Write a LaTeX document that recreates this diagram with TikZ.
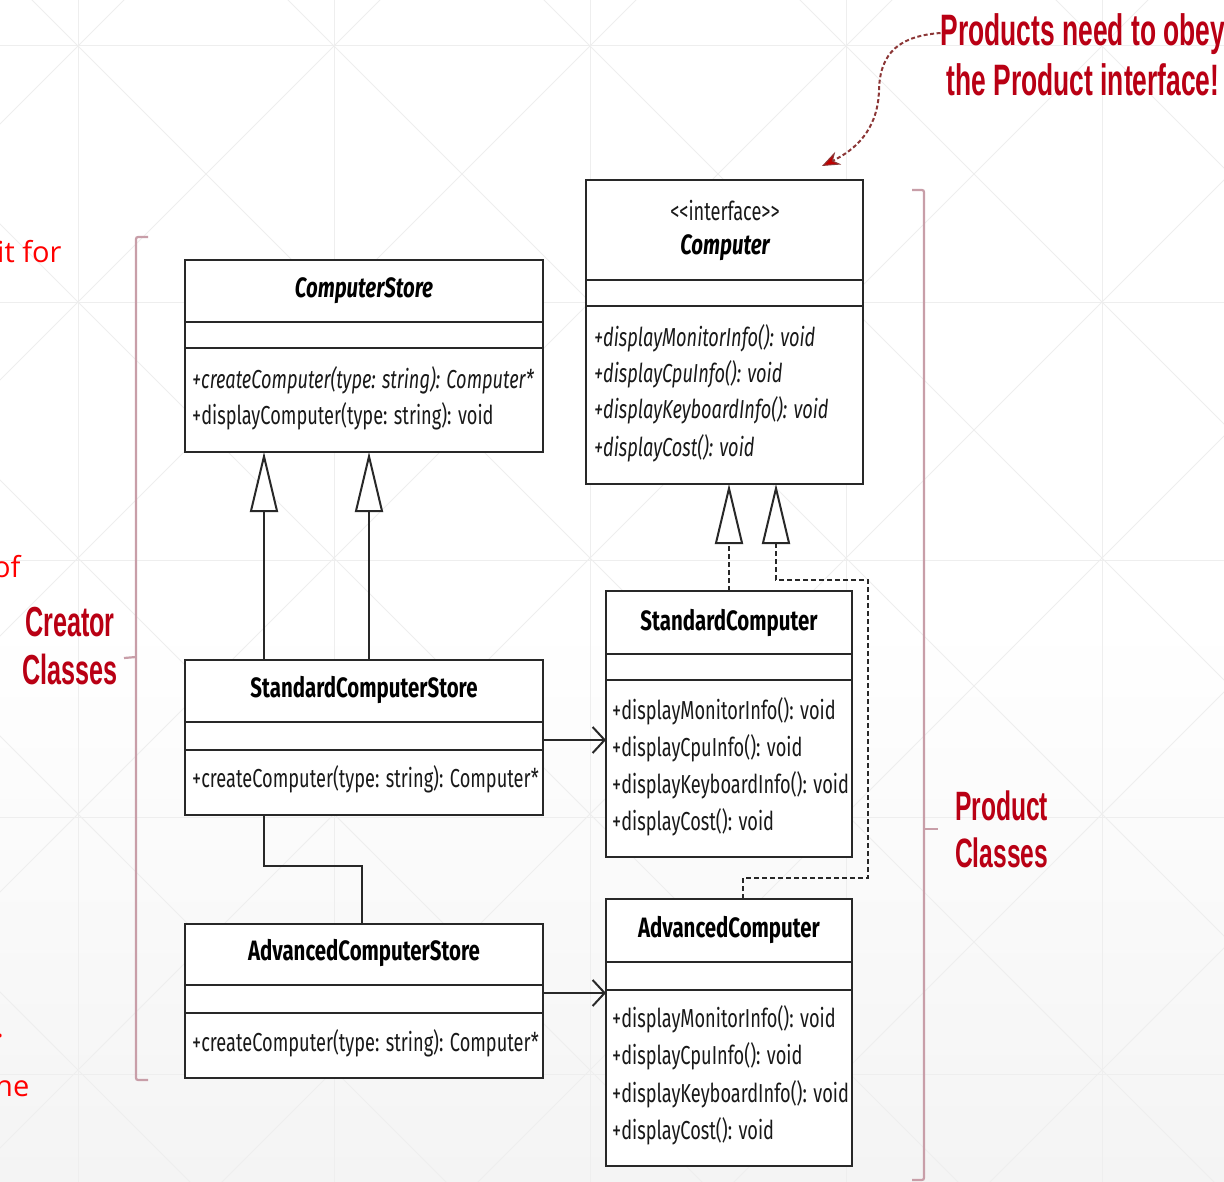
\documentclass[tikz,border=0pt]{standalone}
\usepackage{fontspec}
\usetikzlibrary{arrows.meta}
\newfontfamily\umlfont[FakeStretch=0.70]{Fira Sans}
\newfontfamily\umltitlefont[FakeStretch=0.73]{Fira Sans}
\newfontfamily\notefont[FakeStretch=0.6]{Liberation Sans}
\newfontfamily\sidefont{Open Sans}
\definecolor{notered}{RGB}{185,0,20}
\definecolor{bracketcol}{RGB}{200,158,168}
\definecolor{gridcol}{RGB}{238,238,238}
\definecolor{umlline}{RGB}{40,40,40}
\definecolor{bggrey}{RGB}{244,244,244}
\definecolor{curvecol}{RGB}{140,55,55}

\begin{document}
\begin{tikzpicture}[x=1pt,y=-1pt,
  classbox/.style={draw=umlline, line width=2.4, fill=white, rectangle, inner sep=0, outer sep=0, anchor=north west},
  sepline/.style={draw=umlline, line width=2.4},
  classtitle/.style={font={\umltitlefont\bfseries\fontsize{28}{30}\selectfont}, inner sep=0, text=black},
  stereo/.style={font={\umlfont\fontsize{26}{30}\selectfont}, inner sep=0, text=black!90},
  meth/.style={font={\umlfont\fontsize{26}{30}\selectfont}, inner sep=0, anchor=west, text=black!90},
  absmeth/.style={meth, font={\umlfont\itshape\fontsize{26}{30}\selectfont}},
  inherit/.style={draw=umlline, line width=2.2, -{Triangle[length=60pt, width=28pt, fill=white, line width=2pt]}},
  realize/.style={draw=umlline, line width=2, dash pattern=on 5pt off 3pt, -{Triangle[length=60pt, width=28pt, fill=white, line width=2pt]}},
  depend/.style={draw=umlline, line width=2.4, -{Straight Barb[length=12pt, width=26pt, line width=2pt]}},
  bracket/.style={draw=bracketcol, line width=2.2, rounded corners=2},
  note/.style={font={\notefont\bfseries\fontsize{44}{50}\selectfont}, text=notered, inner sep=0, align=center},
  side/.style={font={\sidefont\fontsize{29}{32}\selectfont}, text=red, inner sep=0, anchor=base west},
  gridline/.style={draw=gridcol, line width=1}
]
\useasboundingbox (0,0) rectangle (1224,1182);

% slide background with its faint lattice
\fill[white] (0,0) rectangle (1224,620);
\shade[top color=white, bottom color=bggrey] (0,620) rectangle (1224,1182);
\begin{scope}
  \clip (0,0) rectangle (1224,1182);
  \foreach \k in {0,...,4} {
    \draw[gridline] (78+256*\k,0) -- (78+256*\k,1182);
    \draw[gridline] (0,46+257*\k) -- (1224,46+257*\k);
  }
  \foreach \k in {-6,...,6}
    \draw[gridline] (32+256*\k-200,-200) -- (32+256*\k+1500,1500);
  \foreach \k in {-1,...,11}
    \draw[gridline] (124+256*\k+200,-200) -- (124+256*\k-1500,1500);
\end{scope}

% text running in from the neighbouring column
\node[side] (sidea) at (-3,263) {it for};
\node[side] (sideb) at (-7,577) {of};
\node[side] (sidec) at (-4,1037) {.};
\node[side] (sided) at (-5,1096) {ne};

% ---- creator classes ----
\node[classbox, minimum width=358, minimum height=192] (cs) at (185,260) {};
\draw[sepline] (185,322) -- (543,322) (185,348) -- (543,348);
\node[classtitle, font={\umltitlefont\bfseries\itshape\fontsize{28}{30}\selectfont}] (csname) at (364,291) {ComputerStore};
\node[absmeth] (csm1) at (192,380) {+createComputer(type: string): Computer*};
\node[meth] (csm2) at (192,416) {+displayComputer(type: string): void};

\node[classbox, minimum width=358, minimum height=154] (acs) at (185,924) {};
\draw[sepline] (185,985) -- (543,985) (185,1013) -- (543,1013);
\node[classtitle] (acsname) at (364,953) {AdvancedComputerStore};
\node[meth] (acsm1) at (192,1043) {+createComputer(type: string): Computer*};

% generalisation of AdvancedComputerStore, routed behind StandardComputerStore
\draw[inherit] ([xshift=177]acs.north west) -- ++(0,-58) -| ([xshift=79]cs.south west);

\node[classbox, minimum width=358, minimum height=155] (scs) at (185,660) {};
\draw[sepline] (185,722) -- (543,722) (185,750) -- (543,750);
\node[classtitle] (scsname) at (364,690) {StandardComputerStore};
\node[meth] (scsm1) at (192,779) {+createComputer(type: string): Computer*};

\draw[inherit] ([xshift=184]scs.north west) -- ([xshift=184]cs.south west);

% ---- product classes ----
\node[classbox, minimum width=277, minimum height=304] (comp) at (586,180) {};
\draw[sepline] (586,280) -- (863,280) (586,306) -- (863,306);
\node[stereo] (compst) at (725,211) {<{}<interface>{}>};
\node[classtitle, font={\umltitlefont\bfseries\itshape\fontsize{28}{30}\selectfont}] (compname) at (725,248) {Computer};
\node[absmeth] (compm1) at (594,338) {+displayMonitorInfo(): void};
\node[absmeth] (compm2) at (594,374) {+displayCpuInfo(): void};
\node[absmeth] (compm3) at (594,410) {+displayKeyboardInfo(): void};
\node[absmeth] (compm4) at (594,448) {+displayCost(): void};

\node[classbox, minimum width=246, minimum height=266] (sc) at (606,591) {};
\draw[sepline] (606,654) -- (852,654) (606,680) -- (852,680);
\node[classtitle] (scname) at (729,623) {StandardComputer};
\node[meth] (scm1) at (612,711) {+displayMonitorInfo(): void};
\node[meth] (scm2) at (612,748) {+displayCpuInfo(): void};
\node[meth] (scm3) at (612,785) {+displayKeyboardInfo(): void};
\node[meth] (scm4) at (612,822) {+displayCost(): void};

\node[classbox, minimum width=246, minimum height=267] (ac) at (606,899) {};
\draw[sepline] (606,962) -- (852,962) (606,990) -- (852,990);
\node[classtitle] (acname) at (729,930) {AdvancedComputer};
\node[meth] (acm1) at (612,1019) {+displayMonitorInfo(): void};
\node[meth] (acm2) at (612,1056) {+displayCpuInfo(): void};
\node[meth] (acm3) at (612,1094) {+displayKeyboardInfo(): void};
\node[meth] (acm4) at (612,1131) {+displayCost(): void};

% realisations of the Computer interface
\draw[realize] ([xshift=123]sc.north west) -- ([xshift=143]comp.south west);
\draw[realize] ([xshift=137]ac.north west) -- ++(0,-21) -- ++(125,0) -- ++(0,-298) -| ([xshift=190]comp.south west);

% stores create their products
\draw[depend] ([yshift=-80]scs.north east) -- ([yshift=-149]sc.north west);
\draw[depend] ([yshift=-69]acs.north east) -- ([yshift=-94]ac.north west);

% ---- grouping brackets ----
\draw[bracket] (148,237) -- (136,237) -- (136,1080) -- (148,1080);
\draw[bracket] (136,657) -- (124,658);
\node[note, font={\notefont\bfseries\fontsize{42}{48}\selectfont}] (creator) at (70,646) {Creator\\Classes};

\draw[bracket] (912,190) -- (924,190) -- (924,1180) -- (912,1180);
\draw[bracket] (924,829) -- (938,829);
\node[note, font={\notefont\bfseries\fontsize{41}{47}\selectfont}, align=left, anchor=west] (product) at (955,829) {Product\\Classes};

% ---- callout ----
\node[note] (callout) at (1083,55) {Products need to obey\\the Product interface!};
\draw[curvecol, line width=2, dash pattern=on 4pt off 2.5pt,
      -{Stealth[length=18pt, width=14pt, fill=red!75!black, line width=1pt]}]
  (callout.west |- 0,33) .. controls (900,36) and (880,52) .. (879,90)
  .. controls (878,130) and (855,150) .. (822,166);
\end{tikzpicture}
\end{document}
